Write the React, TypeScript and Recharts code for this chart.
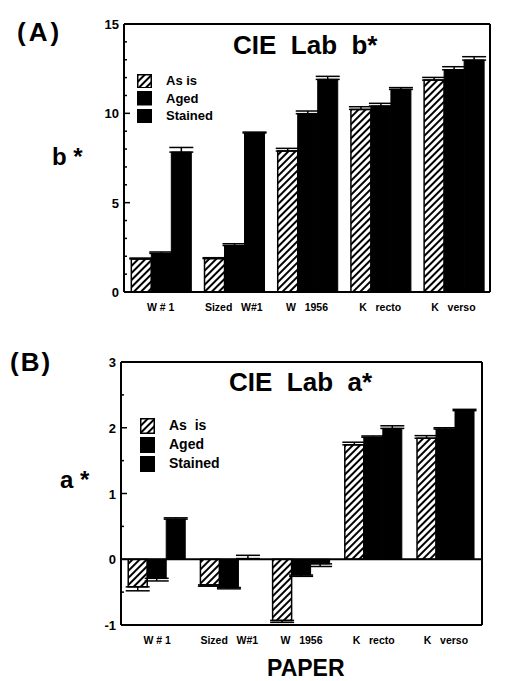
import { Bar, BarChart, ErrorBar, ReferenceLine, XAxis, YAxis } from 'recharts';

// paper samples (category axis), spaces kept as printed
const papers = ['W # 1', 'Sized   W#1', 'W   1956', 'K   recto', 'K   verso'];
const seriesNames = ['As is', 'Aged', 'Stained'];

// (A) CIE Lab b*
const bAsIs = [1.85, 1.87, 7.89, 10.22, 11.86];
const bAged = [2.16, 2.6, 9.98, 10.41, 12.44];
const bStained = [7.83, 8.9, 11.9, 11.34, 12.98];
const bAsIsErr = [0.05, 0.05, 0.15, 0.15, 0.15];
const bAgedErr = [0.08, 0.1, 0.15, 0.15, 0.17];
const bStainedErr = [0.26, 0.05, 0.17, 0.1, 0.19];
const bTicks = [0, 1, 2, 3, 4, 5, 6, 7, 8, 9, 10, 11, 12, 13, 14, 15];

// (B) CIE Lab a*
const aAsIs = [-0.42, -0.39, -0.93, 1.74, 1.84];
const aAged = [-0.29, -0.43, -0.24, 1.855, 1.98];
const aStained = [0.61, 0.01, -0.07, 1.99, 2.26];
const aAsIsErr = [0.06, 0.02, 0.03, 0.04, 0.04];
const aAgedErr = [0.04, 0.02, 0.02, 0.02, 0.02];
const aStainedErr = [0.02, 0.05, 0.04, 0.04, 0.02];
const aTicks = [-1, -0.5, 0, 0.5, 1, 1.5, 2, 2.5, 3];

const FONT = '"Liberation Sans", Arial, sans-serif';

// error bars drawn only away from the baseline
const oneSided = (v: number, e: number) => (v >= 0 ? [0, e] : [e, 0]);

function buildRows(asIs: number[], aged: number[], stained: number[], e1: number[], e2: number[], e3: number[]) {
  return papers.map((paper, i) => ({
    paper,
    asIs: asIs[i],
    aged: aged[i],
    stained: stained[i],
    asIsErr: oneSided(asIs[i], e1[i]),
    agedErr: oneSided(aged[i], e2[i]),
    stainedErr: oneSided(stained[i], e3[i]),
  }));
}

const bRows = buildRows(bAsIs, bAged, bStained, bAsIsErr, bAgedErr, bStainedErr);
const aRows = buildRows(aAsIs, aAged, aStained, aAsIsErr, aAgedErr, aStainedErr);

function YTick({ x, y, payload, majorStep }: any) {
  const major = Number.isInteger(payload.value / majorStep);
  return (
    <g>
      <line x1={x} x2={x + (major ? 6 : 3)} y1={y} y2={y} stroke="#000" strokeWidth={1.5} />
      {major && (
        <text x={x - 5} y={y} dy={5} textAnchor="end" fontFamily={FONT} fontWeight={700} fontSize={13} fill="#000">
          {payload.value}
        </text>
      )}
    </g>
  );
}

function XTick({ x, y, payload }: any) {
  return (
    <text x={x} y={y + 19} textAnchor="middle" fontFamily={FONT} fontWeight={700} fontSize={10.5} fill="#000" style={{ whiteSpace: 'pre' }}>
      {payload.value}
    </text>
  );
}

function LegendBox({ rowH, fontSize, hatchId, left, top }: { rowH: number; fontSize: number; hatchId: string; left: number; top: number }) {
  return (
    <div style={{ position: 'absolute', left, top, fontFamily: FONT, fontWeight: 700, fontSize, lineHeight: `${rowH}px` }}>
      {seriesNames.map((name, i) => (
        <div key={name} style={{ display: 'flex', alignItems: 'center', height: rowH }}>
          <svg width={15} height={rowH - 3} style={{ marginRight: 14 }}>
            <rect x={0.75} y={0.75} width={13.5} height={rowH - 4.5} fill={i === 0 ? `url(#${hatchId})` : '#000'} stroke="#000" strokeWidth={1.5} />
          </svg>
          <span style={{ whiteSpace: 'pre' }}>{i === 0 && hatchId === 'hatchB' ? 'As  is' : name}</span>
        </div>
      ))}
    </div>
  );
}

interface PanelProps {
  rows: ReturnType<typeof buildRows>;
  height: number;
  domain: [number, number];
  ticks: number[];
  majorStep: number;
  hatchId: string;
  plotTop: number;
  plotLeft: number;
  plotRight: number;
  axisH: number;
  zeroLine?: boolean;
}

function Panel(p: PanelProps) {
  return (
    <BarChart
      width={529}
      height={p.height}
      data={p.rows}
      margin={{ top: p.plotTop - 1, right: 529 - p.plotRight - 1, bottom: 0, left: 0 }}
      barCategoryGap="10%"
      barGap={0}
    >
      <defs>
        <pattern id={p.hatchId} patternUnits="userSpaceOnUse" width={5} height={5} patternTransform="rotate(45)">
          <rect width={5} height={5} fill="#fff" />
          <line x1={1} y1={0} x2={1} y2={5} stroke="#000" strokeWidth={2} />
        </pattern>
      </defs>
      <XAxis dataKey="paper" height={p.axisH} tickLine={false} tickSize={0} tickMargin={0} interval={0} axisLine={{ stroke: '#000', strokeWidth: 2 }} tick={<XTick />} />
      <XAxis xAxisId="top" dataKey="paper" orientation="top" height={1} tick={false} tickLine={false} axisLine={{ stroke: '#000', strokeWidth: 2 }} />
      <YAxis
        domain={p.domain}
        ticks={p.ticks}
        interval={0}
        width={p.plotLeft}
        tickSize={0}
        tickMargin={0}
        tickLine={false}
        axisLine={{ stroke: '#000', strokeWidth: 2 }}
        tick={(t: any) => <YTick {...t} majorStep={p.majorStep} />}
        allowDataOverflow
      />
      <YAxis yAxisId="frame" orientation="right" width={1} domain={p.domain} tick={false} tickLine={false} axisLine={{ stroke: '#000', strokeWidth: 2 }} />
      {p.zeroLine && <ReferenceLine y={0} stroke="#000" strokeWidth={2} />}
      <Bar dataKey="asIs" name={seriesNames[0]} fill={`url(#${p.hatchId})`} stroke="#000" strokeWidth={1.5} isAnimationActive={false}>
        <ErrorBar dataKey="asIsErr" direction="y" width={12} stroke="#000" strokeWidth={1.5} />
      </Bar>
      <Bar dataKey="aged" name={seriesNames[1]} fill="#000" stroke="#000" strokeWidth={1} isAnimationActive={false}>
        <ErrorBar dataKey="agedErr" direction="y" width={12} stroke="#000" strokeWidth={1.5} />
      </Bar>
      <Bar dataKey="stained" name={seriesNames[2]} fill="#000" stroke="#000" strokeWidth={1} isAnimationActive={false}>
        <ErrorBar dataKey="stainedErr" direction="y" width={12} stroke="#000" strokeWidth={1.5} />
      </Bar>
    </BarChart>
  );
}

const textStyle = { position: 'absolute' as const, fontFamily: FONT, fontWeight: 700, color: '#000', whiteSpace: 'pre' as const, lineHeight: 1 };

export default function App() {
  return (
    <div style={{ position: 'absolute', left: 0, top: 0, width: 529, height: 681, background: '#fff', overflow: 'hidden' }}>
      <div style={{ position: 'absolute', left: 0, top: 0 }}>
        <Panel rows={bRows} height={320} domain={[0, 15]} ticks={bTicks} majorStep={5} hatchId="hatchA" plotTop={24} plotLeft={124} plotRight={490} axisH={28} />
        <LegendBox rowH={17.5} fontSize={13} hatchId="hatchA" left={137} top={72} />
      </div>
      <div style={{ position: 'absolute', left: 0, top: 330 }}>
        <Panel rows={aRows} height={351} domain={[-1, 3]} ticks={aTicks} majorStep={1} hatchId="hatchB" plotTop={32} plotLeft={121} plotRight={482} axisH={56} zeroLine />
        <LegendBox rowH={19} fontSize={14} hatchId="hatchB" left={140} top={86} />
      </div>
      <div style={{ ...textStyle, left: 17, top: 19, fontSize: 26, letterSpacing: 3 }}>(A)</div>
      <div style={{ ...textStyle, left: 10, top: 349, fontSize: 26, letterSpacing: 2 }}>(B)</div>
      <div style={{ ...textStyle, left: 233, top: 32, fontSize: 26 }}>CIE  Lab  b*</div>
      <div style={{ ...textStyle, left: 229, top: 369, fontSize: 26 }}>CIE  Lab  a*</div>
      <div style={{ ...textStyle, left: 52, top: 145, fontSize: 24 }}>b *</div>
      <div style={{ ...textStyle, left: 60, top: 468, fontSize: 24 }}>a *</div>
      <div style={{ ...textStyle, left: 267, top: 657, fontSize: 23 }}>PAPER</div>
    </div>
  );
}
